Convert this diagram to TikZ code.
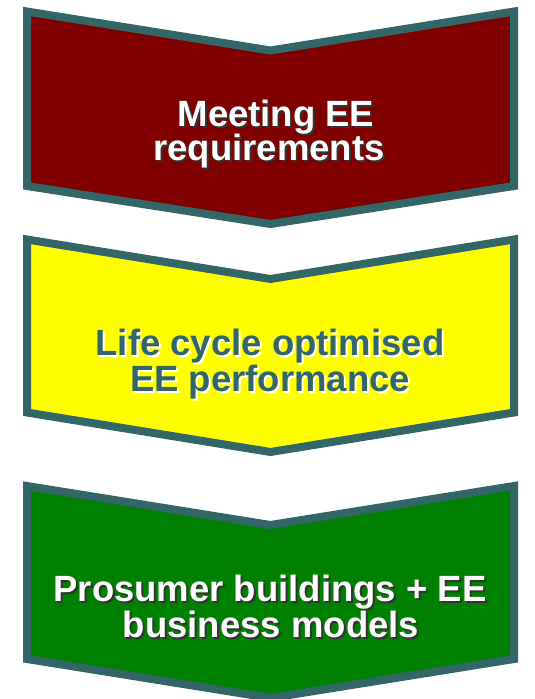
\documentclass[tikz,border=0pt]{standalone}
\usepackage{fontspec}
\setmainfont{Liberation Sans}
\definecolor{edge}{HTML}{336666}
\definecolor{maroon}{HTML}{800000}
\definecolor{yel}{HTML}{FFFF00}
\definecolor{grn}{HTML}{008000}
\tikzset{
  chev/.style={draw=edge, line width=8pt, miter limit=10, line join=miter},
  lbl/.style={anchor=base, inner sep=0pt, font=\fontsize{36.5}{36.5}\selectfont\bfseries},
  shd/.style={lbl, text=black!80},
  shdlight/.style={lbl, text=white},
}
\begin{document}
\begin{tikzpicture}[x=1pt,y=-1pt]
\useasboundingbox (0,0) rectangle (535,699);
% chevrons
\draw[chev, fill=maroon] (27,11.5) -- (270.5,50.5) -- (514,11.5) -- (514,186) -- (270.5,224) -- (27,186) -- cycle;
\draw[chev, fill=yel] (27,239.5) -- (270.5,279) -- (514,239.5) -- (514,412.5) -- (270.5,452) -- (27,412.5) -- cycle;
\draw[chev, fill=grn] (27,486) -- (270.5,525) -- (514,486) -- (514,659) -- (270.5,698) -- (27,659) -- cycle;
% texts 1
\node[shd] (s1a) at (278,128) {Meeting EE};
\node[lbl, text=white] (t1a) at (276,126) {Meeting EE};
\node[shd] (s1b) at (271,162) {requirements};
\node[lbl, text=white] (t1b) at (269,160) {requirements};
% texts 2
\node[shdlight] (s2a) at (272,357) {Life cycle optimised};
\node[lbl, text=edge] (t2a) at (270,355) {Life cycle optimised};
\node[shdlight] (s2b) at (272,393) {EE performance};
\node[lbl, text=edge] (t2b) at (270,391) {EE performance};
% texts 3
\node[shd] (s3a) at (272,603) {Prosumer buildings + EE};
\node[lbl, text=white] (t3a) at (270,601) {Prosumer buildings + EE};
\node[shd] (s3b) at (273,639) {business models};
\node[lbl, text=white] (t3b) at (271,637) {business models};
\end{tikzpicture}
\end{document}
